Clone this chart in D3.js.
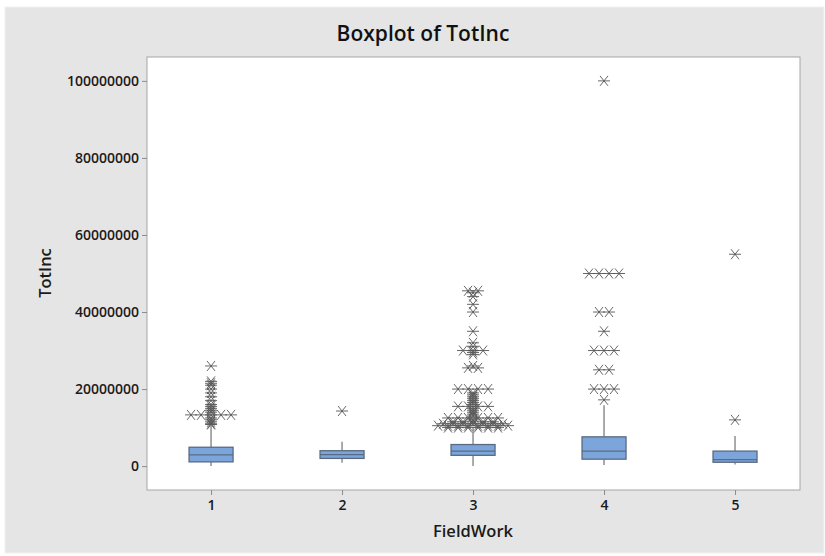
<!DOCTYPE html>
<html><head><meta charset="utf-8">
<script src="https://cdn.jsdelivr.net/npm/d3@7"></script>
<style>body{margin:0;background:#fff;} text{font-family:"Open Sans","Noto Sans",sans-serif;}</style>
</head><body>
<svg id="c" width="825" height="556"></svg>
<script>
const categories = [1, 2, 3, 4, 5];
const whiskerLow = [50000, 900000, 50000, 300000, 400000];
const q1 = [1100000, 2000000, 2800000, 1800000, 1000000];
const median = [2900000, 3000000, 3900000, 3900000, 1700000];
const q3 = [4900000, 4000000, 5600000, 7600000, 3900000];
const whiskerHigh = [10500000, 6300000, 9800000, 15800000, 7800000];
const outliers1 = [26, 22, 21.5, 21, 20, 19, 18, 17, 16, 15.5, 15, 14.5, 14, 13.3, 13.3, 13.3, 13.3, 13.3, 12.5, 12, 11.5, 11, 10.8];
const outliers2 = [14.3];
const outliers3 = [45.5, 45.5, 45, 44, 42, 40, 35, 32, 31, 30, 30, 30, 29.5, 29, 26, 25.5, 25.5, 20, 20, 20, 20, 19, 18.5, 18, 17.5, 17, 16.5, 16, 15.5, 15.5, 15.5, 15.5, 15, 14.5, 14, 13.5, 13, 12.5, 12.5, 12.5, 12.5, 12.5, 12.5, 12, 11.5, 11.5, 11.5, 11.5, 11.5, 11, 11, 11, 11, 11, 11, 11, 10.5, 10.5, 10.5, 10.5, 10.5, 10.5, 10.5, 10.5, 10, 10, 10, 10, 10, 10];
const outliers4 = [100, 50, 50, 50, 50, 40, 40, 35, 30, 30, 30, 25, 25, 20, 20, 20, 17.2];
const outliers5 = [55, 12];
const outlierLists = [outliers1, outliers2, outliers3, outliers4, outliers5];
const yTicks = [0, 20000000, 40000000, 60000000, 80000000, 100000000];

const svg = d3.select("#c");
svg.append("rect").attr("x", 5).attr("y", 7).attr("width", 819).attr("height", 546)
  .attr("fill", "#e5e5e5").attr("stroke", "#f2f2f2");

const L = 147, R = 800, T = 57, B = 490;
const x = d3.scaleLinear().domain([0.511, 5.496]).range([L, R]);
const y = d3.scaleLinear().domain([-6200000, 106200000]).range([B, T]);

svg.append("rect").attr("x", L).attr("y", T).attr("width", R - L).attr("height", B - T)
  .attr("fill", "#fff").attr("stroke", "#a6a6a6");

const yAxis = svg.append("g").attr("transform", `translate(${L},0)`)
  .call(d3.axisLeft(y).tickValues(yTicks).tickFormat(d3.format("d")).tickSize(5).tickPadding(3));
const xAxis = svg.append("g").attr("transform", `translate(0,${B})`)
  .call(d3.axisBottom(x).tickValues(categories).tickFormat(d3.format("d")).tickSize(5).tickPadding(5));
[yAxis, xAxis].forEach(a => {
  a.select(".domain").remove();
  a.selectAll("line").attr("stroke", "#8c8c8c");
  a.selectAll("text").attr("font-size", 14).attr("font-weight", 600).attr("fill", "#1a1a1a")
    .style("font-family", "'Open Sans','Noto Sans',sans-serif");
});

svg.append("text").attr("x", 423).attr("y", 41).attr("text-anchor", "middle")
  .attr("font-size", 21).attr("font-weight", 600).attr("fill", "#111").text("Boxplot of TotInc");
svg.append("text").attr("x", 473).attr("y", 537).attr("text-anchor", "middle")
  .attr("font-size", 16.5).attr("font-weight", 600).attr("fill", "#1a1a1a").text("FieldWork");
svg.append("text").attr("transform", "translate(51,273) rotate(-90)").attr("text-anchor", "middle")
  .attr("font-size", 16.5).attr("font-weight", 600).attr("fill", "#1a1a1a").text("TotInc");

const bw = 44;
const g = svg.append("g");
categories.forEach((c, i) => {
  const cx = x(c);
  g.append("line").attr("x1", cx).attr("x2", cx).attr("y1", y(whiskerLow[i])).attr("y2", y(q1[i]))
    .attr("stroke", "#8f8f8f").attr("stroke-width", 1.5);
  g.append("line").attr("x1", cx).attr("x2", cx).attr("y1", y(q3[i])).attr("y2", y(whiskerHigh[i]))
    .attr("stroke", "#8f8f8f").attr("stroke-width", 1.5);
  g.append("rect").attr("x", cx - bw / 2).attr("y", y(q3[i])).attr("width", bw)
    .attr("height", y(q1[i]) - y(q3[i])).attr("fill", "#7ca6db").attr("stroke", "#5a6a80").attr("stroke-width", 1.3);
  g.append("line").attr("x1", cx - bw / 2).attr("x2", cx + bw / 2).attr("y1", y(median[i])).attr("y2", y(median[i]))
    .attr("stroke", "#5a6a80").attr("stroke-width", 1.3);

  const groups = d3.rollups(outlierLists[i], v => v.length, d => d);
  groups.forEach(([val, n]) => {
    for (let k = 0; k < n; k++) {
      const ox = cx + (k - (n - 1) / 2) * 10;
      const oy = y(val * 1e6);
      g.append("path")
        .attr("d", `M${ox - 6},${oy}H${ox + 6}M${ox - 4},${oy - 5}L${ox + 4},${oy + 5}M${ox - 4},${oy + 5}L${ox + 4},${oy - 5}`)
        .attr("stroke", "#555").attr("stroke-width", 1).attr("fill", "none").attr("opacity", 0.9);
    }
  });
});
</script>
</body></html>
